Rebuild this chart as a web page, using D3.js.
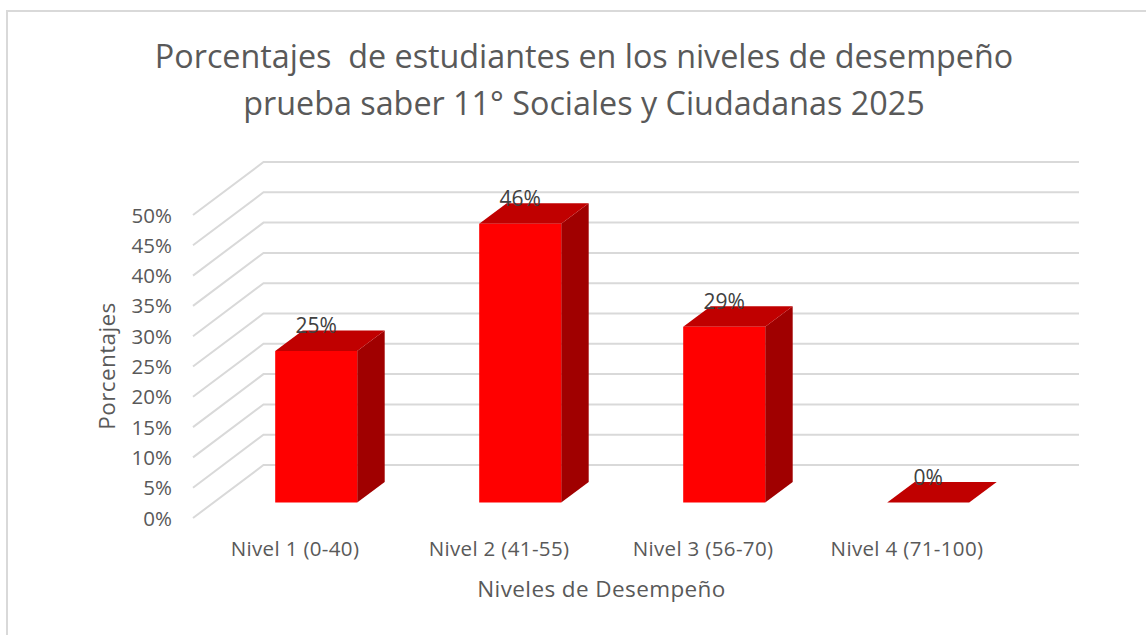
<!DOCTYPE html>
<html lang="en">

<head>
    <meta charset="UTF-8" />
    <title>Niveles de desempeño</title>
    <script src="https://d3js.org/d3.v7.js"></script>
    <style>
        html, body { margin: 0; background: #fff; }
        svg { display: block; font-family: "Open Sans", sans-serif; }
    </style>
</head>

<body>
    <svg id="chart"></svg>
</body>

<script>
    // values
    const categories = ["Nivel 1 (0-40)", "Nivel 2 (41-55)", "Nivel 3 (56-70)", "Nivel 4 (71-100)"];
    const percentages = [25, 46, 29, 0];
    const yTicks = [0, 5, 10, 15, 20, 25, 30, 35, 40, 45, 50];
    const titleLines = ["Porcentajes  de estudiantes en los niveles de desempeño", "prueba saber 11° Sociales y Ciudadanas 2025"];

    const width = 1146, height = 635;

    const svg = d3.select("#chart").attr("width", width).attr("height", height);

    // chart frame: only top and left edges are in the crop
    svg.append("path")
        .attr("d", `M7,${height}V11H${width}`)
        .attr("fill", "none")
        .attr("stroke", "#d9d9d9")
        .attr("stroke-width", 2);

    // front plane of the fake 3D box
    const y = d3.scaleLinear().domain([0, 50]).range([518, 215]);
    const wallDepth = { dx: 70.5, dy: -53 };   // floor front edge -> back wall
    const barInset = { dx: 21.2, dy: -15.5 };  // floor front edge -> bar front face
    const barDepth = { dx: 27.5, dy: -20.5 };  // bar front face -> bar back face

    const gridLeft = 193, gridRight = 1079;

    // gridlines, drawn as the side wall plus the back wall
    svg.append("g").selectAll("path")
        .data(yTicks)
        .enter()
        .append("path")
        .attr("d", d => `M${gridLeft},${y(d)}l${wallDepth.dx},${wallDepth.dy}H${gridRight}`)
        .attr("fill", "none")
        .attr("stroke", "#d9d9d9")
        .attr("stroke-width", 2);

    // y axis labels
    const yAxis = d3.axisLeft(y)
        .tickValues(yTicks)
        .tickFormat(d => d + "%")
        .tickSize(0)
        .tickPadding(0);

    svg.append("g")
        .attr("transform", "translate(172,0.5)")
        .call(yAxis)
        .call(g => g.select(".domain").remove())
        .selectAll("text")
        .attr("font-family", '"Open Sans", sans-serif')
        .attr("font-size", 20.5)
        .attr("fill", "#595959");

    // bars
    const x = d3.scaleBand()
        .domain(categories)
        .range([gridLeft + barInset.dx, gridLeft + barInset.dx + 816])
        .paddingInner(0.598)
        .paddingOuter(0.299);

    const floorY = y(0) + barInset.dy;
    const barTop = d => y(d) + barInset.dy;

    const bars = svg.append("g").selectAll("g")
        .data(percentages)
        .enter()
        .append("g");

    // right side
    bars.filter(d => d > 0).append("path")
        .attr("d", (d, i) => {
            const right = x(categories[i]) + x.bandwidth();
            return `M${right},${floorY}l${barDepth.dx},${barDepth.dy}V${barTop(d) + barDepth.dy}L${right},${barTop(d)}Z`;
        })
        .attr("fill", "#a00000");

    // top
    bars.append("path")
        .attr("d", (d, i) => {
            const left = x(categories[i]);
            return `M${left},${barTop(d)}h${x.bandwidth()}l${barDepth.dx},${barDepth.dy}h${-x.bandwidth()}Z`;
        })
        .attr("fill", "#c00000");

    // front
    bars.filter(d => d > 0).append("rect")
        .attr("x", (d, i) => x(categories[i]))
        .attr("y", d => barTop(d))
        .attr("width", x.bandwidth())
        .attr("height", d => floorY - barTop(d))
        .attr("fill", "#ff0000");

    // data labels
    bars.append("text")
        .attr("x", (d, i) => x(categories[i]) + x.bandwidth() / 2)
        .attr("y", d => barTop(d) - 18)
        .attr("text-anchor", "middle")
        .attr("font-size", 21)
        .attr("fill", "#404040")
        .text(d => d + "%");

    // category labels
    const xLabels = d3.scaleBand()
        .domain(categories)
        .range([193, 193 + 816])
        .paddingInner(0)
        .paddingOuter(0);

    const xAxis = d3.axisBottom(xLabels).tickSize(0).tickPadding(0);

    svg.append("g")
        .attr("transform", "translate(0,541)")
        .call(xAxis)
        .call(g => g.select(".domain").remove())
        .selectAll("text")
        .attr("font-family", '"Open Sans", sans-serif')
        .attr("font-size", 20.5)
        .attr("letter-spacing", 0.35)
        .attr("fill", "#595959");

    // axis titles
    svg.append("text")
        .attr("x", 601.5)
        .attr("y", 597)
        .attr("text-anchor", "middle")
        .attr("font-size", 22.5)
        .attr("letter-spacing", 0.4)
        .attr("fill", "#595959")
        .text("Niveles de Desempeño");

    svg.append("text")
        .attr("transform", "translate(115,366) rotate(-90)")
        .attr("text-anchor", "middle")
        .attr("font-size", 22.5)
        .attr("letter-spacing", 0.4)
        .attr("fill", "#595959")
        .text("Porcentajes");

    // title
    svg.append("g").selectAll("text")
        .data(titleLines)
        .enter()
        .append("text")
        .attr("x", 584)
        .attr("y", (d, i) => 68 + i * 47)
        .attr("text-anchor", "middle")
        .attr("xml:space", "preserve")
        .style("white-space", "pre")
        .attr("font-size", 32.3)
        .attr("fill", "#595959")
        .text(d => d);
</script>

</html>
